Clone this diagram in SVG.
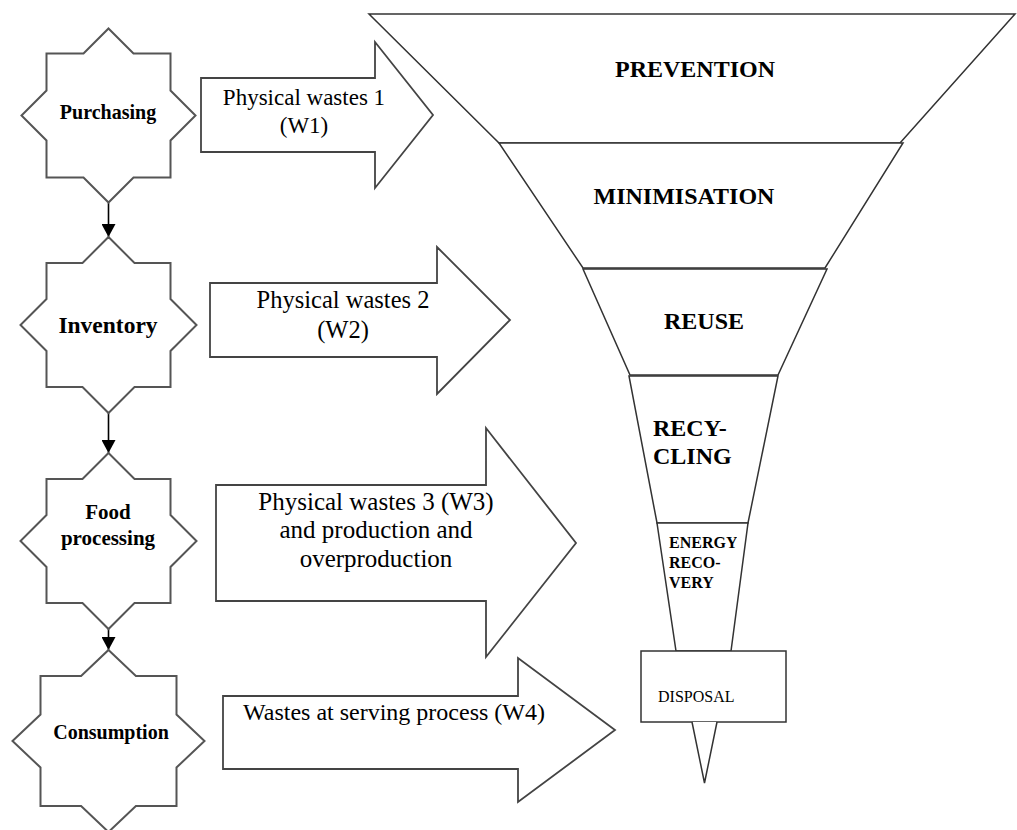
<svg xmlns="http://www.w3.org/2000/svg" width="1017" height="830" viewBox="0 0 1017 830" font-family="Liberation Serif, Times New Roman, serif">
<style>
.star{fill:#fff;stroke:#555;stroke-width:2;stroke-linejoin:miter}
.blk{fill:#fff;stroke:#444;stroke-width:1.8}
.fun{fill:#fff;stroke:#333;stroke-width:1.5}
.conn{stroke:#000;stroke-width:1.6;fill:none}
.lbl{font-weight:bold;fill:#000;text-anchor:middle}
.wt{fill:#000;text-anchor:middle}
.ft{font-weight:bold;fill:#000}
</style>
<defs>
<marker id="ah" markerUnits="userSpaceOnUse" markerWidth="14" markerHeight="14" refX="13" refY="7" orient="auto">
<path d="M0,0 L13,7 L0,14 z" fill="#000"/>
</marker>
<clipPath id="enclip"><rect x="660" y="525" width="77" height="80"/></clipPath>
</defs>
<rect width="1017" height="830" fill="#fff"/>

<g id="connectors">
<line class="conn" x1="108.5" y1="203" x2="108.5" y2="237" marker-end="url(#ah)"/>
<line class="conn" x1="108.5" y1="413" x2="108.5" y2="453" marker-end="url(#ah)"/>
<line class="conn" x1="108.5" y1="629" x2="108.5" y2="650" marker-end="url(#ah)"/>
</g>

<g id="purchasing">
<polygon class="star" points="108.5,28.5 133.5,53.5 170.5,53.5 170.5,90.5 195.5,115.5 170.5,140.5 170.5,177.5 133.5,177.5 108.5,202.5 83.5,177.5 46.5,177.5 46.5,140.5 21.5,115.5 46.5,90.5 46.5,53.5 83.5,53.5"/>
<text class="lbl" x="108" y="119" font-size="20" font-family="Liberation Serif, Times New Roman, serif">Purchasing</text>
</g>
<g id="inventory">
<polygon class="star" points="108.5,237 134.5,263 170.5,263 170.5,299 196.5,325 170.5,351 170.5,387 134.5,387 108.5,413 82.5,387 46.5,387 46.5,351 20.5,325 46.5,299 46.5,263 82.5,263"/>
<text class="lbl" x="108" y="333" font-size="23.5" font-family="Liberation Serif, Times New Roman, serif">Inventory</text>
</g>
<g id="food-processing">
<polygon class="star" points="108.5,453 134.5,479 170.5,479 170.5,515 196.5,541 170.5,567 170.5,603 134.5,603 108.5,629 82.5,603 46.5,603 46.5,567 20.5,541 46.5,515 46.5,479 82.5,479"/>
<text class="lbl" x="108" y="519" font-size="21" font-family="Liberation Serif, Times New Roman, serif">Food</text>
<text class="lbl" x="108" y="545" font-size="21" font-family="Liberation Serif, Times New Roman, serif">processing</text>
</g>
<g id="consumption">
<polygon class="star" points="108.5,650 135.9,676 176.5,676 176.5,714.5 204.5,741 176.5,767.5 176.5,806 135.9,806 108.5,832 81.1,806 40.5,806 40.5,767.5 12.5,741 40.5,714.5 40.5,676 81.1,676"/>
<text class="lbl" x="111" y="739" font-size="20" font-family="Liberation Serif, Times New Roman, serif">Consumption</text>
</g>

<g id="w1" font-family="Liberation Serif, Times New Roman, serif">
<polygon class="blk" points="201,78 375,78 375,42 433,115 375,188 375,152 201,152"/>
<text class="wt" x="304" y="105" font-size="23">Physical wastes 1</text>
<text class="wt" x="304" y="133" font-size="23">(W1)</text>
</g>
<g id="w2" font-family="Liberation Serif, Times New Roman, serif">
<polygon class="blk" points="210,283 437,283 437,247 510,320 437,394 437,357 210,357"/>
<text class="wt" x="343" y="308" font-size="24.5">Physical wastes 2</text>
<text class="wt" x="343" y="338" font-size="24.5">(W2)</text>
</g>
<g id="w3" font-family="Liberation Serif, Times New Roman, serif">
<polygon class="blk" points="216,485 486,485 486,428 576,543 486,657 486,601 216,601"/>
<text class="wt" x="376" y="510" font-size="25">Physical wastes 3 (W3)</text>
<text class="wt" x="376" y="538" font-size="25">and production and</text>
<text class="wt" x="376" y="567" font-size="25">overproduction</text>
</g>
<g id="w4" font-family="Liberation Serif, Times New Roman, serif">
<polygon class="blk" points="223,696 518,696 518,658 615,730 518,802 518,769 223,769"/>
<text x="243" y="720" font-size="24" fill="#000">Wastes at serving process (W4)</text>
</g>

<g id="prevention" font-family="Liberation Serif, Times New Roman, serif">
<polygon class="fun" points="369,14 1015,14 900,143 499,143"/>
<text class="ft" x="695" y="77" font-size="24" text-anchor="middle">PREVENTION</text>
</g>
<g id="minimisation" font-family="Liberation Serif, Times New Roman, serif">
<polygon class="fun" points="499,143 903,143 825,268 583,268"/>
<text class="ft" x="684" y="204" font-size="24" text-anchor="middle">MINIMISATION</text>
</g>
<g id="reuse" font-family="Liberation Serif, Times New Roman, serif">
<polygon class="fun" points="583,269 827,269 778,375 630,375"/>
<text class="ft" x="704" y="329" font-size="24" text-anchor="middle">REUSE</text>
</g>
<g id="recycling" font-family="Liberation Serif, Times New Roman, serif">
<polygon class="fun" points="629,376 778,376 748,523 657,523"/>
<text class="ft" x="653" y="436" font-size="24">RECY-</text>
<text class="ft" x="653" y="464" font-size="24">CLING</text>
</g>
<g id="energy-recovery" font-family="Liberation Serif, Times New Roman, serif">
<polygon class="fun" points="657,523 748,523 731,651 676,651"/>
<g clip-path="url(#enclip)">
<text class="ft" x="669" y="548" font-size="16">ENERGY</text>
</g>
<text class="ft" x="669" y="568" font-size="16">RECO-</text>
<text class="ft" x="669" y="588" font-size="16">VERY</text>
</g>
<g id="disposal" font-family="Liberation Serif, Times New Roman, serif">
<rect class="fun" x="641" y="651" width="145" height="71"/>
<polyline class="fun" points="692,722 704.5,783 717,722"/>
<text x="658" y="702" font-size="16" fill="#000">DISPOSAL</text>
</g>
</svg>
